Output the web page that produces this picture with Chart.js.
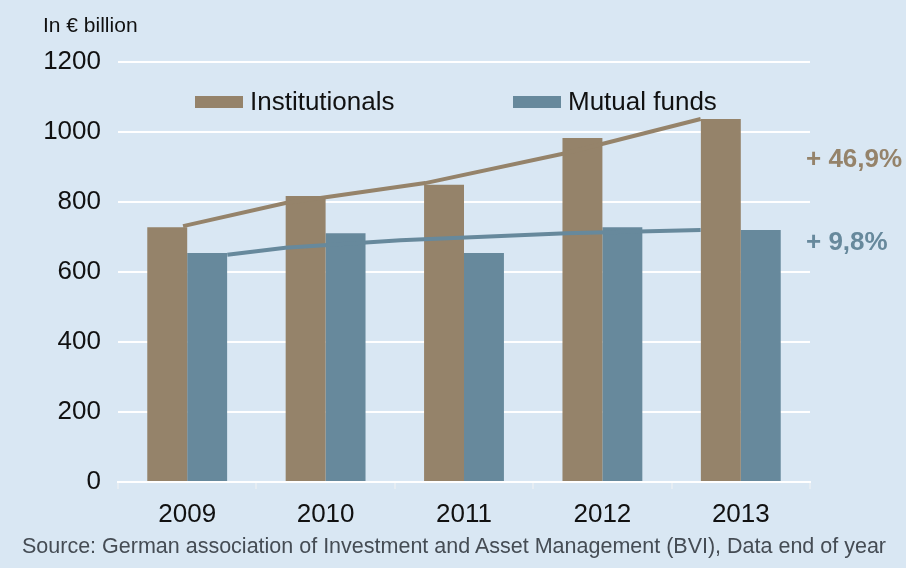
<!DOCTYPE html>
<html>
<head>
<meta charset="utf-8">
<script src="https://cdn.jsdelivr.net/npm/chart.js@4.4.0/dist/chart.umd.min.js"></script>
<style>
  body { margin: 0; background: #d9e7f3; font-family: "Liberation Sans", Arial, sans-serif; }
  #wrap { position: relative; width: 906px; height: 568px; }
  canvas { position: absolute; left: 0; top: 0; }
  .txt { position: absolute; white-space: nowrap; line-height: 1; }
  #unit { left: 43px; top: 14px; font-size: 21px; color: #111; }
  .legend { position: absolute; top: 86px; display: flex; align-items: center; font-size: 26px; color: #111; }
  .legend span.sw { display: inline-block; width: 48px; height: 12px; margin-right: 7px; }
  .pct { font-size: 26px; font-weight: bold; }
  #source { left: 22px; top: 536px; font-size: 21.5px; color: #454c54; }
</style>
</head>
<body>
<div id="wrap">
  <canvas id="chart" width="906" height="568"></canvas>
  <canvas id="trend" width="906" height="568"></canvas>
  <div class="txt" id="unit">In € billion</div>
  <div id="legend"></div>
  <div class="txt pct" id="pct0" style="left:806px;top:145px;"></div>
  <div class="txt pct" id="pct1" style="left:806px;top:228px;"></div>
  <div class="txt" id="source">Source: German association of Investment and Asset Management (BVI), Data end of year</div>
</div>
<script>
// Daten (in Mrd. EUR)
const years = ["2009", "2010", "2011", "2012", "2013"];
const institutionals = [728, 817, 849, 983, 1037];
const mutualFunds = [654, 711, 654, 728, 720];
const seriesNames = ["Institutionals", "Mutual funds"];
const seriesColors = ["#95836a", "#67899c"];
const growthLabels = ["+ 46,9%", "+ 9,8%"];
const yTicks = [0, 200, 400, 600, 800, 1000, 1200];

// Trendlinien (x in Kategorie-Einheiten)
const trendInstitutionals = [
  { x: -0.03, y: 731 }, { x: 0.71, y: 797 }, { x: 1.72, y: 854 },
  { x: 2.74, y: 940 }, { x: 3.71, y: 1037 },
];
const trendMutual = [
  { x: 0.29, y: 649 }, { x: 0.71, y: 669 }, { x: 1.54, y: 691 },
  { x: 2.74, y: 711 }, { x: 3.71, y: 720 },
];

// gemeinsames Layout (Plotbereich 118..810 x 62..482)
const pad = { top: 62, right: 96, left: 0, bottom: 0 };
const yAxisWidth = 118;
const xAxisHeight = 86;

// Legende + Prozentangaben
const legendPos = [195, 513];
document.getElementById("legend").innerHTML = seriesNames
  .map(
    (name, i) => `
    <div class="legend" style="left:${legendPos[i]}px">
      <span class="sw" style="background:${seriesColors[i]}"></span>${name}
    </div>`
  )
  .join("");
growthLabels.forEach((t, i) => {
  const el = document.getElementById("pct" + i);
  el.textContent = t;
  el.style.color = seriesColors[i];
});

// Balken
new Chart(document.getElementById("chart").getContext("2d"), {
  type: "bar",
  data: {
    labels: years,
    datasets: [
      { label: seriesNames[0], data: institutionals, backgroundColor: seriesColors[0] },
      { label: seriesNames[1], data: mutualFunds, backgroundColor: seriesColors[1] },
    ],
  },
  options: {
    responsive: false,
    animation: false,
    layout: { padding: pad },
    categoryPercentage: 0.577,
    barPercentage: 1,
    plugins: { legend: { display: false }, tooltip: { enabled: false } },
    scales: {
      x: {
        grid: { drawOnChartArea: false, drawTicks: true, tickLength: 7, color: "#e6edf3", lineWidth: 2 },
        border: { color: "#ffffff", width: 2 },
        ticks: { color: "#111", font: { size: 26, family: "Liberation Sans" }, padding: 10 },
        afterFit: (s) => { s.height = xAxisHeight; },
      },
      y: {
        min: 0,
        max: 1200,
        afterBuildTicks: (s) => { s.ticks = yTicks.map((v) => ({ value: v })); },
        grid: { color: "#ffffff", lineWidth: 2, drawTicks: false },
        border: { display: false },
        ticks: {
          color: "#111",
          font: { size: 26, family: "Liberation Sans" },
          padding: 17,
          callback: (v) => String(v),
        },
        afterFit: (s) => { s.width = yAxisWidth; },
      },
    },
  },
});

// Trendlinien darüber (gleicher Plotbereich, Achsen unsichtbar)
new Chart(document.getElementById("trend").getContext("2d"), {
  type: "line",
  data: {
    datasets: [
      { data: trendInstitutionals, borderColor: seriesColors[0], borderWidth: 4, pointRadius: 0 },
      { data: trendMutual, borderColor: seriesColors[1], borderWidth: 4, pointRadius: 0 },
    ],
  },
  options: {
    responsive: false,
    animation: false,
    layout: {
      padding: { top: pad.top, right: pad.right, left: yAxisWidth, bottom: xAxisHeight },
    },
    plugins: { legend: { display: false }, tooltip: { enabled: false } },
    scales: {
      x: { type: "linear", display: false, min: -0.5, max: years.length - 0.5 },
      y: { display: false, min: 0, max: 1200 },
    },
  },
});
</script>
</body>
</html>
